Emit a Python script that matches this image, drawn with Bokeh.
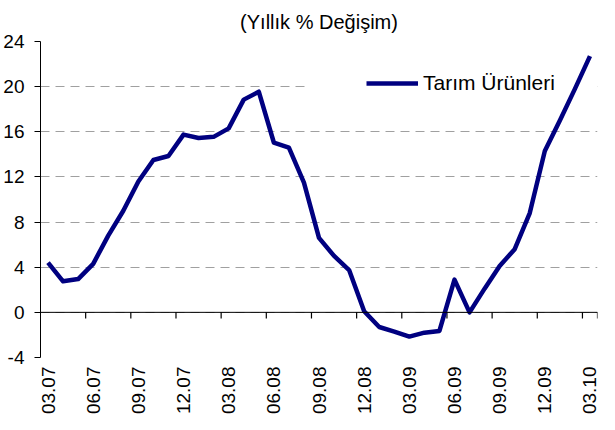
from bokeh.plotting import figure
from bokeh.models import (Range1d, FixedTicker, Span, Legend, LegendItem,
                          BoxAnnotation, ColumnDataSource)
from bokeh.embed import file_html
from bokeh.resources import INLINE
import math

# ---- data ----
months = ["03.07", "04.07", "05.07", "06.07", "07.07", "08.07", "09.07", "10.07",
          "11.07", "12.07", "01.08", "02.08", "03.08", "04.08", "05.08", "06.08",
          "07.08", "08.08", "09.08", "10.08", "11.08", "12.08", "01.09", "02.09",
          "03.09", "04.09", "05.09", "06.09", "07.09", "08.09", "09.09", "10.09",
          "11.09", "12.09", "01.10", "02.10", "03.10"]
tarim = [4.4, 2.75, 2.95, 4.3, 6.8, 9.0, 11.6, 13.5, 13.85, 15.75, 15.45, 15.55,
         16.3, 18.85, 19.55, 15.05, 14.6, 11.5, 6.6, 5.0, 3.75, 0.1, -1.3, -1.7,
         -2.15, -1.8, -1.65, 2.9, 0.0, 2.1, 4.1, 5.6, 8.8, 14.3, 17.0, 19.8, 22.7]
y_ticks = [-4, 0, 4, 8, 12, 16, 20, 24]
y_labels = ["-4", "0", "4", "8", "12", "16", "20", "24"]
series_name = "Tarım Ürünleri"
title_text = "(Yıllık % Değişim)"

FONT = "Liberation Sans"
idx = list(range(len(months)))
label_idx = idx[::3]

src = ColumnDataSource(dict(x=idx, y=tarim, m=months))

p = figure(output_backend="svg", toolbar_location=None,
           frame_width=557, frame_height=316,
           min_border_left=37, min_border_right=5,
           min_border_top=33, min_border_bottom=65,
           x_range=Range1d(-0.5, len(months) - 0.5),
           y_range=Range1d(-4, 24),
           title=title_text)
p.outline_line_color = None
p.background_fill_color = "white"
p.border_fill_color = "white"

p.title.align = "center"
p.title.text_font = FONT
p.title.text_font_size = "20px"
p.title.text_font_style = "normal"
p.title.text_color = "black"
p.title.standoff = 17

# grid
p.xgrid.grid_line_color = None
p.ygrid.ticker = FixedTicker(ticks=y_ticks)
p.ygrid.grid_line_color = "#a0a0a0"
p.ygrid.grid_line_dash = "9 6"
p.ygrid.grid_line_width = 1

# y axis
p.yaxis.ticker = FixedTicker(ticks=y_ticks)
p.yaxis.major_label_overrides = dict(zip(y_ticks, y_labels))
p.yaxis.axis_line_color = "black"
p.yaxis.major_tick_line_color = "black"
p.yaxis.major_tick_out = 6
p.yaxis.major_tick_in = 0
p.yaxis.minor_tick_line_color = None
p.yaxis.major_label_standoff = 10
p.yaxis.major_label_text_font = FONT
p.yaxis.major_label_text_font_size = "19px"
p.yaxis.major_label_text_color = "black"

# x axis (labels only at bottom)
p.xaxis.ticker = FixedTicker(ticks=label_idx)
p.xaxis.major_label_overrides = {i: months[i] for i in label_idx}
p.xaxis.axis_line_color = None
p.xaxis.major_tick_line_color = None
p.xaxis.minor_tick_line_color = None
p.xaxis.major_tick_out = 0
p.xaxis.major_tick_in = 0
p.xaxis.major_label_standoff = 9
p.xaxis.major_label_orientation = math.pi / 2
p.xaxis.major_label_text_font = FONT
p.xaxis.major_label_text_font_size = "19px"
p.xaxis.major_label_text_color = "black"

# blank area behind legend (hides gridline like the original)
p.add_layout(BoxAnnotation(left=17.3, right=len(months) - 0.5, bottom=18.5, top=21.5,
                           fill_color="white", fill_alpha=1.0, line_color=None,
                           level="underlay"))

# horizontal axis line at zero with category tick marks
p.add_layout(Span(location=0, dimension="width", line_color="black", line_width=1))
tick_pos = [i - 0.5 for i in label_idx[1:]] + [len(months) - 0.5]
p.segment(x0=tick_pos, y0=[0] * len(tick_pos), x1=tick_pos, y1=[-0.55] * len(tick_pos),
          line_color="black", line_width=1.2)

r = p.line("x", "y", source=src, line_color="#000080", line_width=4.5,
           line_join="round")

legend = Legend(items=[LegendItem(label=series_name, renderers=[r])],
                location=(326, 262))
legend.background_fill_alpha = 0
legend.border_line_color = None
legend.glyph_width = 52
legend.glyph_height = 20
legend.label_standoff = 5
legend.padding = 6
legend.margin = 0
legend.label_text_font = FONT
legend.label_text_font_size = "21px"
legend.label_text_color = "black"
p.add_layout(legend)

open("out.html", "w").write(file_html(p, INLINE))
